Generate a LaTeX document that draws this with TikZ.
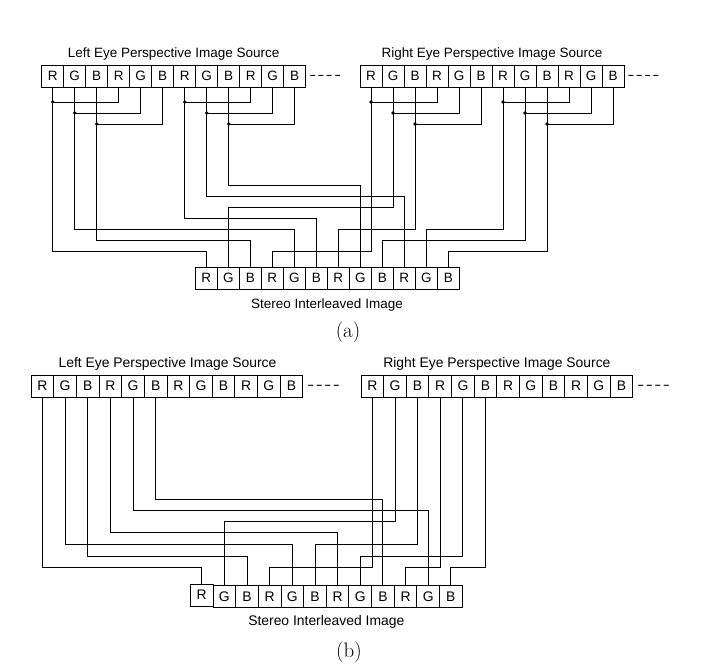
\documentclass[tikz,border=0pt]{standalone}
\usepackage{fontspec}
\newfontfamily\arial{Liberation Sans}
\newcommand\dsh{\scalebox{1.5}[1]{-}}
\newcommand\dashes{\dsh\kern1.6pt\dsh\kern1.6pt\dsh\kern1.6pt\dsh}
\tikzset{
  cellA/.style={draw, line width=0.9pt, minimum width=22pt, minimum height=22pt, inner sep=0pt,
    font=\arial\fontsize{13.5}{16}\selectfont},
  cellB/.style={draw, line width=0.9pt, minimum width=22.65pt, minimum height=22pt, inner sep=0pt,
    font=\arial\fontsize{13.9}{16}\selectfont},
  titleA/.style={inner sep=0pt, anchor=base, font=\arial\fontsize{13.5}{16}\selectfont},
  titleB/.style={inner sep=0pt, anchor=base, font=\arial\fontsize{13.9}{16}\selectfont},
  dashA/.style={inner sep=0pt, anchor=mid west, font=\arial\fontsize{13.5}{16}\selectfont},
  dashB/.style={inner sep=0pt, anchor=mid west, font=\arial\fontsize{13.9}{16}\selectfont},
  capt/.style={inner sep=0pt, anchor=base, font=\fontsize{21}{24}\selectfont},
  wire/.style={line width=0.9pt},
  joint/.style={fill=black}
}
\begin{document}
\begin{tikzpicture}[x=1pt,y=-1pt]
\useasboundingbox (0,0) rectangle (714,668);
\fill[white] (0,0) rectangle (714,668);

% ---------------- (a) ----------------
\foreach \c [count=\i from 0] in {R,G,B,R,G,B,R,G,B,R,G,B} {
  \node[cellA] (aL\i) at ({52.7+22*\i},76) {\c};
  \node[cellA] (aR\i) at ({371+22*\i},76) {\c};
  \node[cellA] (aS\i) at ({206.3+22*\i},278) {\c};
}
\node[titleA] (aLt) at (173.7,57.5) {Left Eye Perspective Image Source};
\node[titleA] (aRt) at (492,57.5) {Right Eye Perspective Image Source};
\node[dashA] (aLd) at (309.1,77.5) {\dashes};
\node[dashA] (aRd) at (627.4,77.5) {\dashes};
\node[titleA] (aSl) at (327,308) {Stereo Interleaved Image};
\node[capt] (acap) at (348,337) {(a)};

\coordinate (ja1) at (0,102);
\coordinate (ja2) at (0,113);
\coordinate (ja3) at (0,124);
\foreach \s in {aL,aR} {
  \foreach \a/\b/\lv in {3/0/ja1,4/1/ja2,5/2/ja3,9/6/ja1,10/7/ja2,11/8/ja3} {
    \draw[wire] (\s\a.south) |- (\s\b |- \lv);
    \fill[joint] (\s\b |- \lv) circle (1.8pt);
  }
}
\foreach \f/\t/\lv in {aL0/aS0/251,aL1/aS4/229,aL2/aS2/240,aL6/aS5/218,aL7/aS9/196,aL8/aS7/185,
                      aR0/aS3/251,aR1/aS1/207,aR2/aS6/229,aR6/aS10/229,aR7/aS8/240,aR8/aS11/251} {
  \coordinate (tmp) at (0,\lv);
  \draw[wire] (\f.south) -- (\f |- tmp) -| (\t.north);
}

% ---------------- (b) ----------------
\foreach \c [count=\i from 0] in {R,G,B,R,G,B,R,G,B,R,G,B} {
  \node[cellB] (bL\i) at ({42.4+22.65*\i},386) {\c};
  \node[cellB] (bR\i) at ({372.3+22.65*\i},386) {\c};
}
\node[cellB] (bS0) at (201.7,595) {R};
\foreach \c [count=\i from 1] in {G,B,R,G,B,R,G,B,R,G,B} {
  \node[cellB] (bS\i) at ({201.7+22.65*\i},596.3) {\c};
}
\node[titleB] (bLt) at (167.5,367.5) {Left Eye Perspective Image Source};
\node[titleB] (bRt) at (496.9,367.5) {Right Eye Perspective Image Source};
\node[dashB] (bLd) at (307.1,387.5) {\dashes};
\node[dashB] (bRd) at (637.1,387.5) {\dashes};
\node[titleB] (bSl) at (326.3,625.5) {Stereo Interleaved Image};
\node[capt] (bcap) at (349,657) {(b)};

\foreach \f/\t/\lv in {bL0/bS0/567,bL1/bS4/544,bL2/bS2/556,bL3/bS6/532.7,bL4/bS10/510.3,bL5/bS8/499.3,
                      bR0/bS3/567,bR1/bS1/521.7,bR2/bS5/544,bR3/bS9/567,bR4/bS7/556,bR5/bS11/567} {
  \coordinate (tmp) at (0,\lv);
  \draw[wire] (\f.south) -- (\f |- tmp) -| (\t.north);
}
\end{tikzpicture}
\end{document}
